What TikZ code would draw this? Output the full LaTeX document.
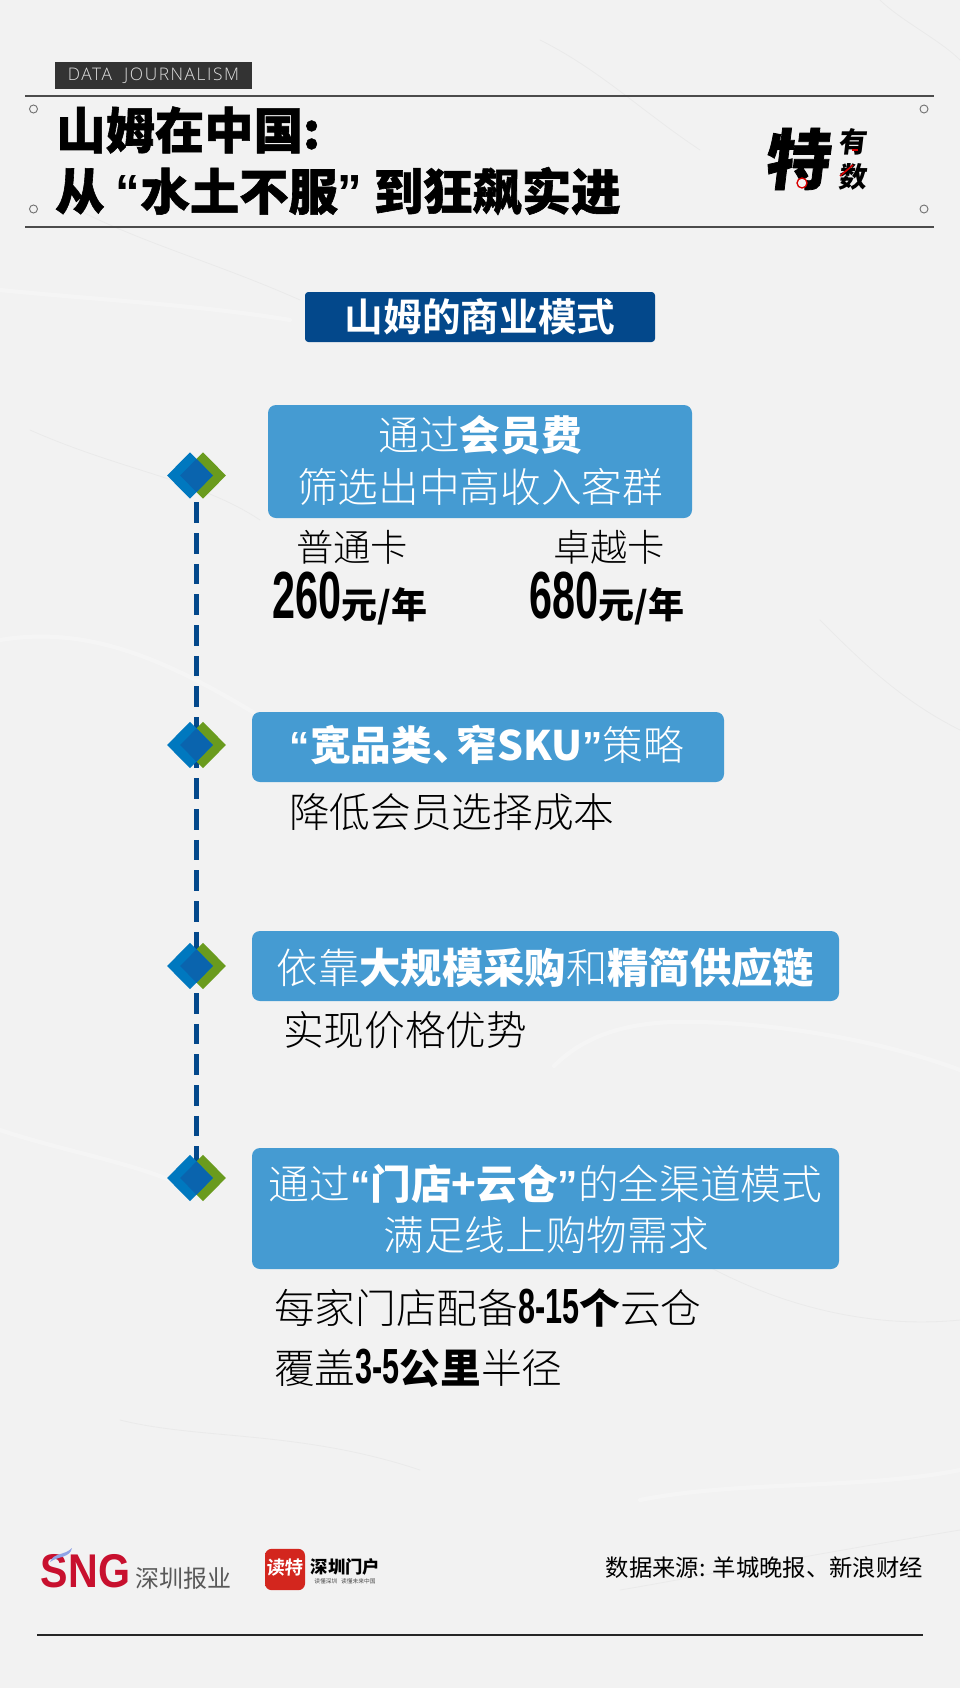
\documentclass[tikz,border=0pt]{standalone}
\usepackage{fontspec}
\usepackage{tikz}
\usetikzlibrary{shapes.geometric,backgrounds}

\newfontfamily\cjkreg{Noto Sans CJK SC}
\newfontfamily\cjklight{Noto Sans CJK SC Light}
\newfontfamily\cjkbold{Noto Sans CJK SC Bold}
\newfontfamily\cjkblack{Noto Sans CJK SC Black}
\newfontfamily\cjktitle{Noto Sans CJK SC Black}[FakeBold=1.2]
\newfontfamily\digitfont{Liberation Sans Bold}[FakeStretch=0.62]
\newfontfamily\quotefont{Liberation Sans Bold}
\newfontfamily\sngfont{Liberation Sans Bold}[FakeStretch=0.87]
\newfontfamily\tagfont{Open Sans Light}[LetterSpace=9]

\newcommand{\hl}[1]{{\cjkblack #1}}
\newcommand{\oq}{{\quotefont “}}
\newcommand{\cq}{{\quotefont ”}}
\newcommand{\num}[1]{{\digitfont\fontsize{37}{37}\selectfont #1}}
\newcommand{\price}[1]{{\digitfont\fontsize{50}{50}\selectfont #1}{\cjkblack\fontsize{27}{25}\selectfont 元/年}}

\definecolor{paper}{HTML}{F2F2F2}
\definecolor{navy}{HTML}{03488B}
\definecolor{skyblue}{HTML}{459BD2}
\definecolor{bluemark}{HTML}{0078BF}
\definecolor{bluedark}{HTML}{0A64AE}
\definecolor{greenmark}{HTML}{6A9B1E}
\definecolor{redmark}{HTML}{C8102E}
\definecolor{dutered}{HTML}{D3261E}
\definecolor{wisp}{HTML}{8FA3E6}

\pgfdeclareverticalshading{dutefade}{100bp}{color(0bp)=(orange!85!yellow); color(18bp)=(dutered); color(100bp)=(dutered)}

\tikzset{
  bluebox/.style={fill=skyblue,rounded corners=6pt},
  boxtext/.style={text=white,font=\cjklight\fontsize{30.5}{39}\selectfont,align=center},
  subtext/.style={text=black,font=\cjklight\fontsize{30.5}{39}\selectfont,anchor=west},
  markback/.style={diamond,fill=greenmark,inner sep=0,minimum width=34.5pt,minimum height=35pt},
  markfront/.style={diamond,fill=bluemark,inner sep=0,minimum width=34.5pt,minimum height=35pt},
  markmid/.style={diamond,fill=bluedark,inner sep=0,minimum width=24.8pt,minimum height=25pt},
  streak/.style={white,line width=3pt,line cap=round,opacity=0.28},
  streakdark/.style={black!30,line width=0.6pt,line cap=round,opacity=0.12},
  corner/.style={circle,draw=black!55,line width=0.7pt,inner sep=0,minimum size=6pt,fill=none}
}

\begin{document}
\begin{tikzpicture}[x=0.75pt,y=-0.75pt]
\useasboundingbox (0,0) rectangle (960,1688);

% header
\node [fill=black!80,minimum width=147.75pt,minimum height=20pt,inner sep=0,text=black!12,font=\tagfont\fontsize{13}{14}\selectfont] (tag) at (153.5,75.5) {DATA\ \ JOURNALISM};
\coordinate (topl) at (25,96);
\coordinate (topr) at (934,96);
\coordinate (botl) at (25,227);
\coordinate (botr) at (934,227);
\draw [black!70,line width=1.9pt] (topl) -- (topr);
\draw [black!70,line width=1.1pt] (botl) -- (botr);
\node [corner] (c1) at (33.5,109) {};
\node [corner] (c2) at (33.5,209) {};
\node [corner] (c3) at (924,109) {};
\node [corner] (c4) at (924,209) {};
\node [anchor=west,inner sep=0,font=\cjktitle\fontsize{37}{37}\selectfont] (title1) at (56,130) {山姆在中国:};
\node [anchor=west,inner sep=0,font=\cjktitle\fontsize{37}{37}\selectfont] (title2) at (55,191) {从 \oq 水土不服\cq{} 到狂飙实进};

% logo
\node [inner sep=0,xslant=0.12,font=\cjktitle\fontsize{49}{49}\selectfont] (logote) at (799,159) {特};
\node [inner sep=0,xslant=0.12,font=\cjkblack\fontsize{21}{21}\selectfont] (logoyou) at (854,142) {有};
\node [inner sep=0,xslant=0.12,font=\cjkblack\fontsize{21}{21}\selectfont] (logoshu) at (854,177) {数};
\node [circle,draw=red!85!black,fill=paper,line width=1pt,inner sep=0,minimum size=7.5pt] (logoq) at (802,183) {};
\node [fill=red!85!black,inner sep=0,minimum width=5pt,minimum height=2pt] (logobar) at (855,150) {};
\coordinate (slasha) at (840,176);
\coordinate (slashb) at (853,165);
\draw [red!85!black,line width=1.2pt] (slasha) -- (slashb);

% section title
\node [fill=navy,rounded corners=2.5pt,minimum width=262.5pt,minimum height=37.5pt,inner sep=0,text=white,font=\cjkbold\fontsize{29}{30}\selectfont] (head) at (480,317) {山姆的商业模式};

% step 1
\node [bluebox,minimum width=318pt,minimum height=84.75pt,inner sep=0] (box1) at (480,461.5) {};
\node [boxtext] (box1a) at (480,435) {通过\hl{会员费}};
\node [boxtext] (box1b) at (480,487) {筛选出中高收入客群};
\node [font=\cjklight\fontsize{28}{30}\selectfont] (card1) at (352,547) {普通卡};
\node [font=\cjklight\fontsize{28}{30}\selectfont] (card2) at (609,547) {卓越卡};
\node [anchor=west,inner sep=0] (price1) at (272,599) {\price{260}};
\node [anchor=west,inner sep=0] (price2) at (529,599) {\price{680}};

% step 2
\node [bluebox,minimum width=354pt,minimum height=52.5pt,inner sep=0] (box2) at (488,747) {};
\node [boxtext] (box2a) at (487,745) {\hl{\oq 宽品类、\hspace{-12pt}窄SKU}\cq 策略};
\node [subtext,inner sep=0] (sub2) at (289,812) {降低会员选择成本};

% step 3
\node [bluebox,minimum width=440.25pt,minimum height=52.5pt,inner sep=0] (box3) at (545.5,966) {};
\node [boxtext,font=\cjklight\fontsize{31}{39}\selectfont] (box3a) at (545.5,968) {依靠\hl{大规模采购}和\hl{精简供应链}};
\node [subtext,inner sep=0] (sub3) at (283,1030) {实现价格优势};

% step 4
\node [bluebox,minimum width=440.25pt,minimum height=90.75pt,inner sep=0] (box4) at (545.5,1208.5) {};
\node [boxtext] (box4a) at (545.5,1184) {通过\oq\hl{门店+云仓}\cq 的全渠道模式};
\node [boxtext] (box4b) at (546,1235) {满足线上购物需求};
\node [subtext,inner sep=0] (sub4a) at (274,1308) {每家门店配备\num{8-15}\hl{个}云仓};
\node [subtext,inner sep=0] (sub4b) at (274,1368) {覆盖\num{3-5}\hl{公里}半径};

% marks
\foreach \n/\y in {1/475.5,2/745,3/966,4/1178}{
  \node [markback] (green\n) at (203,\y) {};
  \node [markfront] (blue\n) at (190,\y) {};
  \node [markmid] (mark\n) at (196.5,\y) {};
}

% footer
\node [inner sep=0,text=redmark,font=\sngfont\fontsize{35.5}{35}\selectfont] (sng) at (85.5,1571) {SNG};
\fill [wisp] (50,1562) .. controls (54,1552) and (64,1556) .. (72,1548) .. controls (70,1558) and (58,1556) .. (50,1562);
\node [inner sep=0,text=black!65,font=\cjkreg\fontsize{18}{20}\selectfont] (sngname) at (183,1578) {深圳报业};
\node [shade,shading=dutefade,rounded corners=5pt,minimum width=30pt,minimum height=31pt,inner sep=0] (dute) at (285,1569.5) {};
\node [inner sep=0,text=white,xslant=0.08,font=\cjkbold\fontsize{13.8}{14}\selectfont] (dutetext) at (285,1568) {读特};
\node [inner sep=0,font=\cjkblack\fontsize{13}{14}\selectfont] (portal) at (345.5,1567) {深圳门户};
\node [inner sep=0,text=black!70,font=\cjkreg\fontsize{4.3}{5}\selectfont] (portalsub) at (345,1581) {读懂深圳\ \ \ 读懂未来中国};
\node [anchor=east,inner sep=0,font=\cjkreg\fontsize{17.5}{20}\selectfont] (source) at (923,1568) {数据来源: 羊城晚报、新浪财经};
\coordinate (footl) at (37,1635);
\coordinate (footr) at (923,1635);
\draw [black!85,line width=0.9pt] (footl) -- (footr);

\begin{pgfonlayer}{background}
\fill [paper] (0,0) rectangle (960,1688);
% paper creases
\draw [streak] (554,1066) .. controls (590,1030) and (640,1020) .. (700,1022) .. controls (780,1024) and (880,1040) .. (960,1070);
\draw [streak] (0,290) .. controls (100,300) and (200,305) .. (290,320);
\draw [streak] (0,1130) .. controls (60,1150) and (120,1160) .. (170,1180);
\draw [streak] (0,640) .. controls (120,620) and (220,690) .. (360,780);
\draw [streak] (640,1500) .. controls (740,1480) and (860,1490) .. (960,1470);
\foreach \a/\b/\c/\d/\e/\f/\g/\h in {
  540/40/600/70/640/110/700/150,
  880/0/900/20/940/40/960/60,
  30/430/120/470/200/480/260/520,
  680/1250/760/1300/860/1330/960/1320,
  120/1420/200/1440/300/1430/420/1470,
  60/200/130/240/210/260/300/300,
  820/620/860/660/900/700/960/730,
  620/1590/680/1580/780/1560/960/1530}{
  \draw [streakdark] (\a,\b) .. controls (\c,\d) and (\e,\f) .. (\g,\h);
}
\draw [navy,line width=3.75pt,dash pattern=on 15.5pt off 7.5pt] ([yshift=-7.5pt]mark1.south) -- (mark4.center);
\end{pgfonlayer}

\end{tikzpicture}
\end{document}
